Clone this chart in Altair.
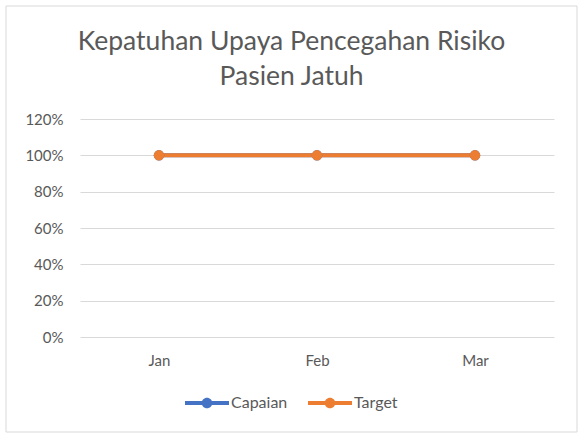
import altair as alt
import pandas as pd

months = ["Jan", "Feb", "Mar"]
series = ["Capaian", "Target"]
capaian = [1.0, 1.0, 1.0]
target = [1.0, 1.0, 1.0]
y_ticks = [0, 0.2, 0.4, 0.6, 0.8, 1.0, 1.2]
colors = ["#4472C4", "#ED7D31"]
title_lines = ["Kepatuhan Upaya Pencegahan Risiko", "Pasien Jatuh"]

rows = []
for s, vals in zip(series, [capaian, target]):
    for m, v in zip(months, vals):
        rows.append({"Bulan": m, "Seri": s, "Nilai": v})
df = pd.DataFrame(rows)

FONT = "Lato"
GREY = "#595959"

color = alt.Color(
    "Seri:N",
    scale=alt.Scale(domain=series, range=colors),
    sort=series,
    legend=alt.Legend(
        title=None,
        orient="none",
        direction="horizontal",
        legendX=105,
        legendY=262,
        symbolType="M-1,-0.09 L1,-0.09 L1,0.09 L-1,0.09 Z M-0.24,0 A0.24,0.24 0 1,1 0.24,0 A0.24,0.24 0 1,1 -0.24,0 Z",
        symbolSize=1936,
        symbolStrokeWidth=0,
        symbolOpacity=1,
        labelFont=FONT,
        labelFontSize=16,
        labelColor=GREY,
        labelOffset=2,
        columnPadding=20,
    ),
)

x = alt.X(
    "Bulan:N",
    sort=months,
    scale=alt.Scale(type="point", padding=0.5),
    axis=alt.Axis(
        title=None, labelAngle=0, ticks=False, domain=False, grid=False,
        labelFont=FONT, labelFontSize=15, labelColor=GREY, labelPadding=16,
    ),
)
y = alt.Y(
    "Nilai:Q",
    scale=alt.Scale(domain=[0, 1.2]),
    axis=alt.Axis(
        title=None, values=y_ticks, format=".0%", ticks=False, domain=False,
        gridColor="#d9d9d9", gridWidth=1,
        labelFont=FONT, labelFontSize=15, labelColor=GREY, labelPadding=17,
    ),
)

lines = alt.Chart(df).mark_line(strokeWidth=4).encode(
    x=x, y=y,
    color=alt.Color("Seri:N", scale=alt.Scale(domain=series, range=colors), legend=None),
    detail="Seri:N",
)
points = alt.Chart(df).mark_point(filled=True, size=110, opacity=1).encode(
    x=x, y=y, color=color,
)

one = pd.DataFrame({"a": [0]})
frame = alt.Chart(one).mark_rect(
    fill="white", fillOpacity=0, stroke="#d9d9d9", strokeWidth=1
).encode(
    x=alt.value(-74), x2=alt.value(497), y=alt.value(-113), y2=alt.value(313)
)

title1 = alt.Chart(one).mark_text(
    font=FONT, fontSize=26.5, color=GREY, align="center", baseline="alphabetic"
).encode(x=alt.value(211.5), y=alt.value(-69), text=alt.value(title_lines[0]))
title2 = alt.Chart(one).mark_text(
    font=FONT, fontSize=26.5, color=GREY, align="center", baseline="alphabetic"
).encode(x=alt.value(211.5), y=alt.value(-34), text=alt.value(title_lines[1]))

chart = alt.layer(frame, title1, title2, lines, points).resolve_legend(color="independent").properties(
    width=474,
    height=218,
    autosize=alt.AutoSizeParams(type="none"),
    padding={"left": 80, "top": 119, "right": 29, "bottom": 101},
    background="white",
).configure_view(strokeWidth=0)

chart.save("out.html", embed_options={"renderer": "svg", "actions": False})
